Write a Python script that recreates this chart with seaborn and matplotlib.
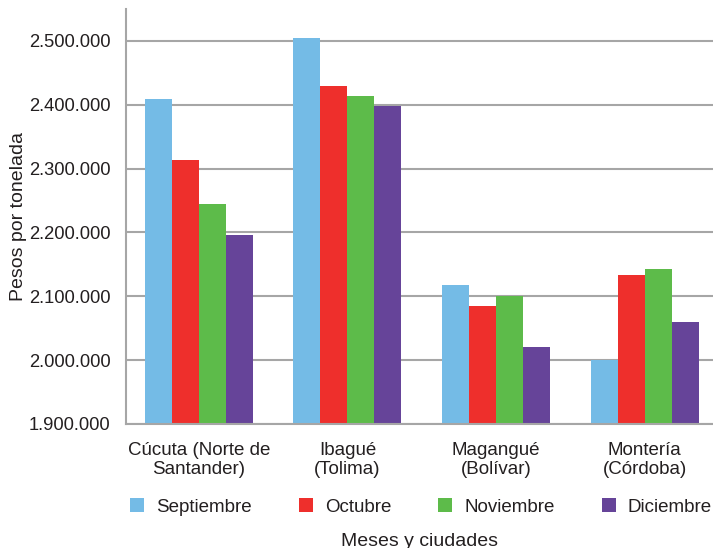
import matplotlib
matplotlib.use("Agg")
import matplotlib.pyplot as plt
import seaborn as sns
import pandas as pd
from matplotlib.ticker import FuncFormatter, MultipleLocator
from matplotlib.patches import Patch

ciudades = ["Cúcuta (Norte de\nSantander)", "Ibagué\n(Tolima)", "Magangué\n(Bolívar)", "Montería\n(Córdoba)"]
meses = ["Septiembre", "Octubre", "Noviembre", "Diciembre"]
septiembre = [2409000, 2504000, 2117000, 2001000]
octubre = [2313000, 2430000, 2085000, 2134000]
noviembre = [2244000, 2414000, 2101000, 2143000]
diciembre = [2196000, 2398000, 2021000, 2059000]

colores = ["#74bbe6", "#ee2f2c", "#5dbb4a", "#664499"]
texto = "#231f20"

rows = []
for mes, vals in zip(meses, [septiembre, octubre, noviembre, diciembre]):
    for c, v in zip(ciudades, vals):
        rows.append({"Ciudad": c, "Mes": mes, "Valor": v})
df = pd.DataFrame(rows)

sns.set_style("white")
plt.rcParams["font.family"] = ["Liberation Sans", "DejaVu Sans"]

fig = plt.figure(figsize=(7.13, 5.48), dpi=100)
W, H = 713, 548
ax = fig.add_axes([126 / W, 1 - 424 / H, (713 - 126) / W, (424 - 9) / H])

sns.barplot(data=df, x="Ciudad", y="Valor", hue="Mes", hue_order=meses,
            order=ciudades, palette=colores, width=0.727, ax=ax,
            saturation=1, legend=False, edgecolor="none", linewidth=0)

ax.set_ylim(1900000, 2550000)
ax.set_xlim(-0.49, 3.46)
ax.yaxis.set_major_locator(MultipleLocator(100000))
ax.yaxis.set_major_formatter(FuncFormatter(lambda v, p: f"{int(round(v)):,}".replace(",", ".")))
ax.grid(axis="y", color="#a6a6a6", linewidth=1.5)
ax.set_axisbelow(True)
for s in ["top", "right"]:
    ax.spines[s].set_visible(False)
for s in ["left", "bottom"]:
    ax.spines[s].set_color("#a6a6a6")
    ax.spines[s].set_linewidth(1.5)
ax.tick_params(axis="y", length=6, width=1.5, color="#a6a6a6", labelsize=13.2, labelcolor=texto, pad=5)
ax.tick_params(axis="x", length=0, labelsize=13.5, labelcolor=texto, pad=13)
for lbl in ax.get_xticklabels():
    lbl.set_linespacing(1.15)

ax.set_ylabel("Pesos por tonelada", fontsize=14, color=texto)
ax.set_xlabel("")
ax.yaxis.set_label_coords((27 - 126) / 587, 0.5)

handles = [Patch(facecolor=c, edgecolor="none") for c in colores]
fig.legend(handles, meses, loc="center", bbox_to_anchor=(421 / W, 1 - 507 / H),
           ncol=4, frameon=False, fontsize=13.5, handlelength=0.75, handleheight=0.75,
           handletextpad=0.65, columnspacing=2.5, labelcolor=texto)
fig.text(419.5 / W, 1 - 541 / H, "Meses y ciudades", ha="center", va="center",
         fontsize=14, color=texto)

fig.savefig("out.png", dpi=100)
